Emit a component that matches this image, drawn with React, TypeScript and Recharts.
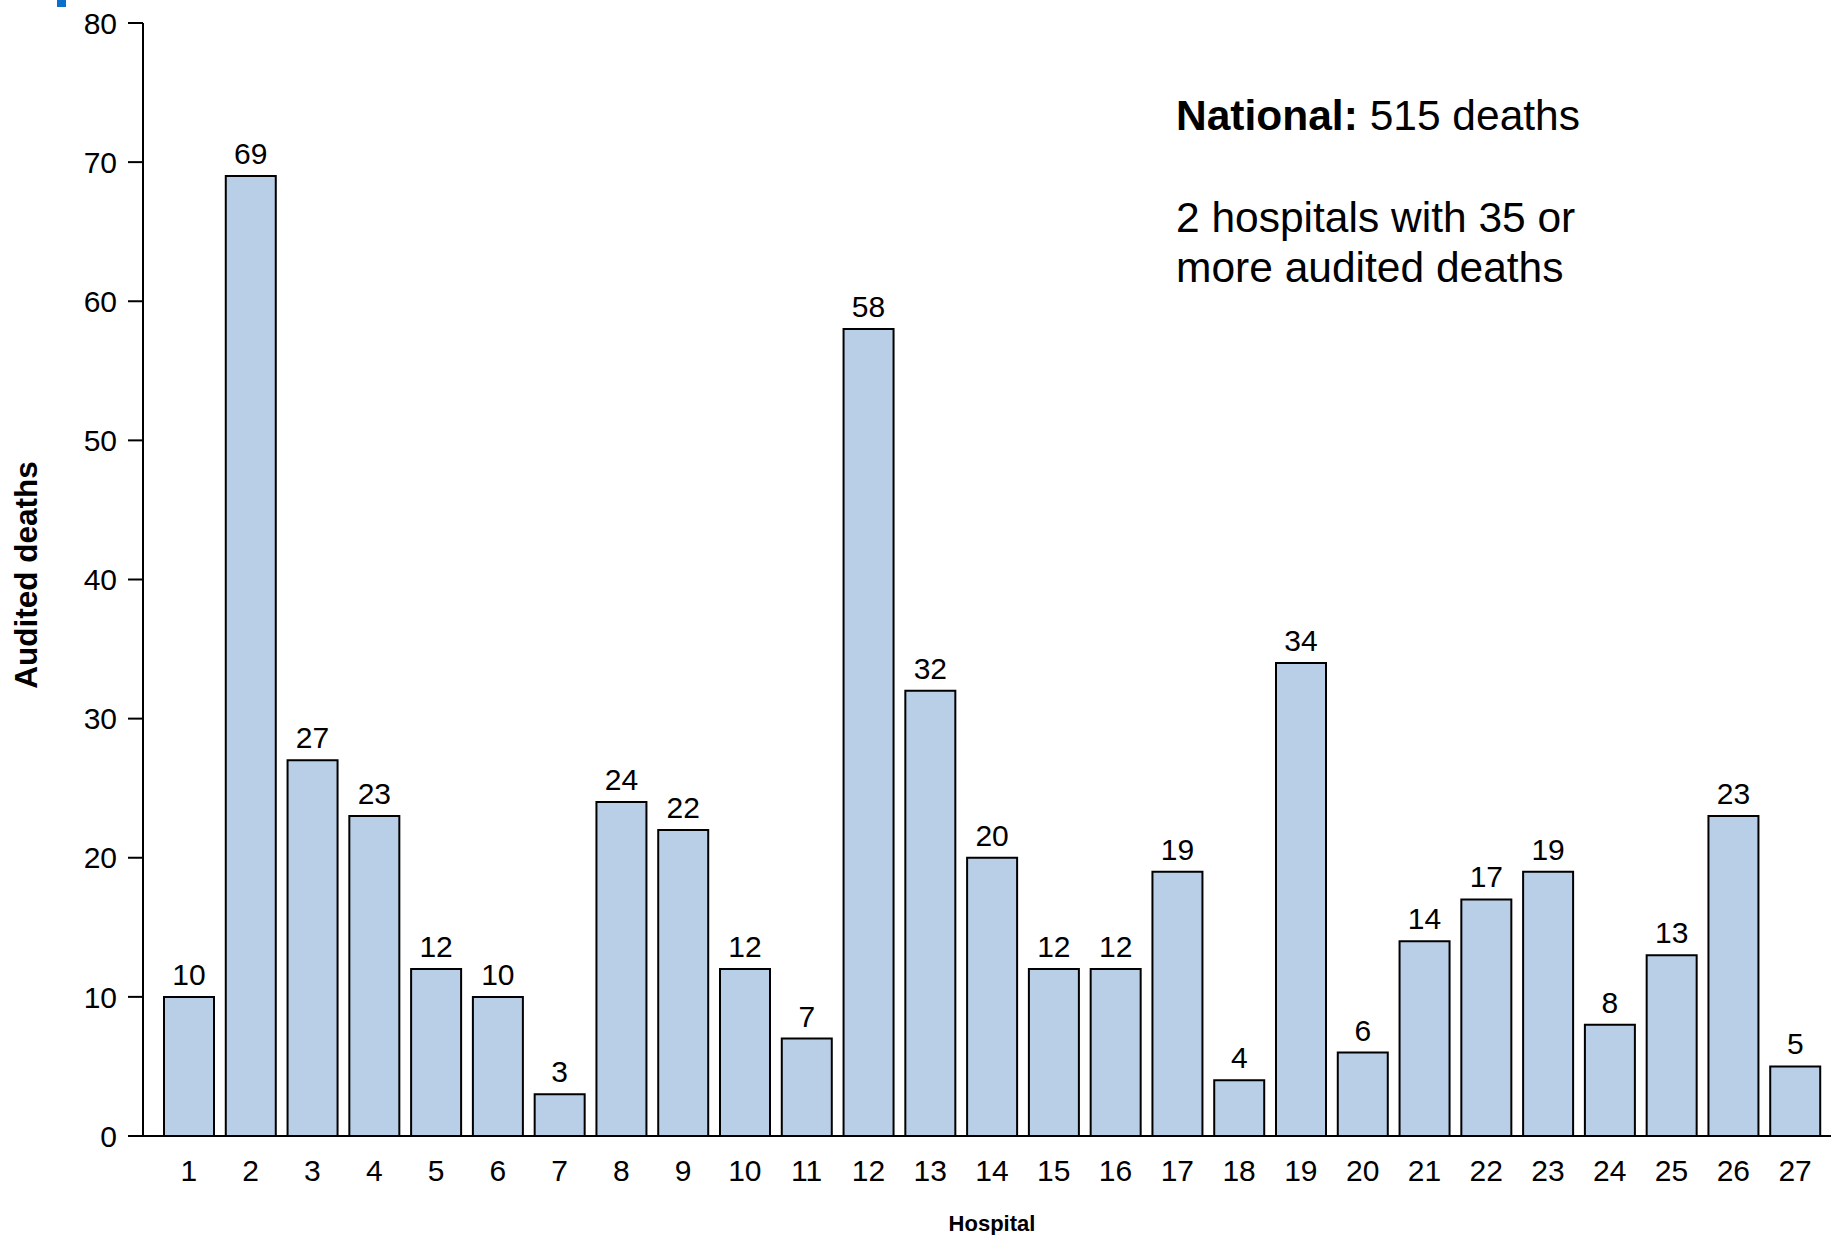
import React from "react";
import { BarChart, Bar, XAxis, YAxis, LabelList, Label } from "recharts";

const hospitals: string[] = [
  "1", "2", "3", "4", "5", "6", "7", "8", "9", "10", "11", "12", "13", "14",
  "15", "16", "17", "18", "19", "20", "21", "22", "23", "24", "25", "26", "27",
];
const auditedDeaths: number[] = [
  10, 69, 27, 23, 12, 10, 3, 24, 22, 12, 7, 58, 32, 20, 12, 12, 19, 4, 34, 6,
  14, 17, 19, 8, 13, 23, 5,
];
const yTicks: number[] = [0, 10, 20, 30, 40, 50, 60, 70, 80];
const nationalTotal = 515;
const hospitalsOver35 = 2;

const data = hospitals.map((h, i) => ({ hospital: h, deaths: auditedDeaths[i] }));

const FONT = "'Liberation Sans', Arial, Helvetica, sans-serif";

export default function App() {
  return (
    <div
      style={{
        position: "absolute",
        left: 0,
        top: 0,
        width: 1831,
        height: 1235,
        background: "#ffffff",
        fontFamily: FONT,
      }}
    >
      <div
        style={{
          position: "absolute",
          left: 57,
          top: 0,
          width: 9,
          height: 7,
          background: "#0b6fcd",
        }}
      />
      <BarChart
        width={1831}
        height={1235}
        data={data}
        margin={{ top: 23, right: 0, bottom: 0, left: 0 }}
        style={{ fontFamily: FONT }}
      >
        <XAxis
          dataKey="hospital"
          height={99}
          padding={{ left: 15, right: 5 }}
          tickLine={false}
          tickSize={0}
          tickMargin={24}
          axisLine={{ stroke: "#000", strokeWidth: 2 }}
          tick={{ fill: "#000", fontSize: 30, fontFamily: FONT }}
          interval={0}
        >
          <Label
            content={({ viewBox }: any) => (
              <text
                x={viewBox.x + viewBox.width / 2 + 5}
                y={1231}
                textAnchor="middle"
                fontSize={22}
                fontWeight="bold"
                fontFamily={FONT}
                fill="#000"
              >
                Hospital
              </text>
            )}
          />
        </XAxis>
        <YAxis
          width={143}
          domain={[0, 80]}
          ticks={yTicks}
          interval={0}
          tickSize={15}
          tickMargin={11}
          axisLine={{ stroke: "#000", strokeWidth: 2 }}
          tickLine={{ stroke: "#000", strokeWidth: 2 }}
          tick={{ fill: "#000", fontSize: 30, fontFamily: FONT }}
        >
          <Label
            content={() => (
              <text
                x={37}
                y={575}
                transform="rotate(-90 37 575)"
                textAnchor="middle"
                fontSize={31.5}
                fontWeight="bold"
                fontFamily={FONT}
                fill="#000"
              >
                Audited deaths
              </text>
            )}
          />
        </YAxis>
        <Bar
          dataKey="deaths"
          fill="#b9cfe7"
          stroke="#000"
          strokeWidth={2}
          barSize={50}
          isAnimationActive={false}
        >
          <LabelList
            dataKey="deaths"
            position="top"
            offset={12}
            fill="#000"
            fontSize={30}
            fontFamily={FONT}
          />
        </Bar>
      </BarChart>
      <svg
        width={1831}
        height={1235}
        style={{ position: "absolute", left: 0, top: 0, pointerEvents: "none" }}
      >
        <text x={1176} y={130} fontSize={42.5} fontFamily={FONT} fill="#000">
          <tspan fontWeight="bold">National:</tspan>
          <tspan> {nationalTotal} deaths</tspan>
        </text>
        <text x={1176} y={232} fontSize={42.5} fontFamily={FONT} fill="#000">
          {hospitalsOver35} hospitals with 35 or
        </text>
        <text x={1176} y={282} fontSize={42.5} fontFamily={FONT} fill="#000">
          more audited deaths
        </text>
      </svg>
    </div>
  );
}
